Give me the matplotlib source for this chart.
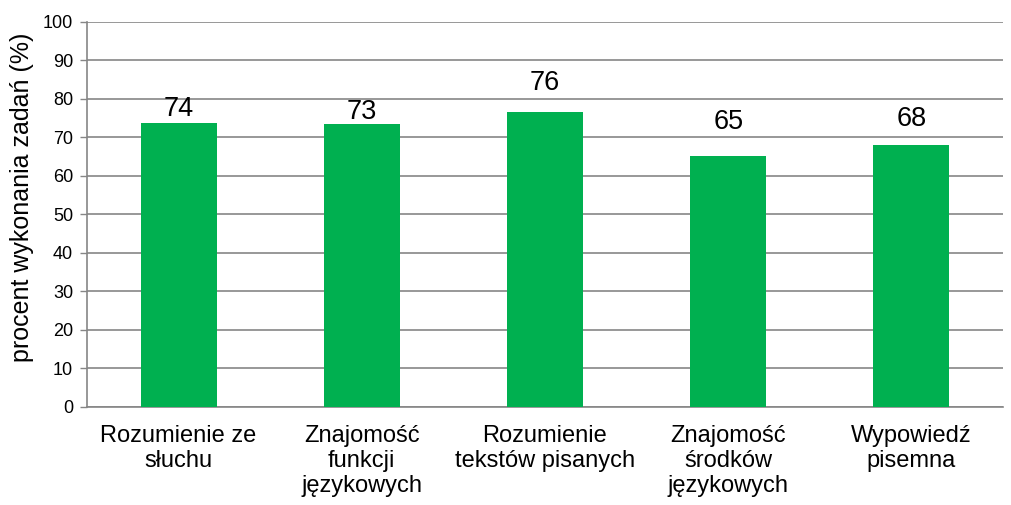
import matplotlib.pyplot as plt

plt.rcParams['font.family'] = ['Liberation Sans', 'DejaVu Sans']

categories = ['Rozumienie ze\nsłuchu', 'Znajomość\nfunkcji\njęzykowych',
              'Rozumienie\ntekstów pisanych', 'Znajomość\nśrodków\njęzykowych',
              'Wypowiedź\npisemna']
values = [73.8, 73.5, 76.6, 65.2, 68.0]
labels = ['74', '73', '76', '65', '68']
label_offsets = [9.9, 8.9, 20.7, 24.5, 18.7]  # points above bar top

fig = plt.figure(figsize=(10.11, 5.05), dpi=100)
ax = fig.add_axes([87 / 1011, 1 - 406.7 / 505, 916 / 1011, 384.7 / 505])

x = range(len(categories))
ax.bar(x, values, width=0.415, color='#00B050', zorder=3)

for i, (v, t) in enumerate(zip(values, labels)):
    ax.annotate(t, (i, v), xytext=(0, label_offsets[i]), textcoords='offset points',
                ha='center', va='center', fontsize=19.5)

ax.set_xlim(-0.5, len(categories) - 0.5)
ax.set_ylim(0, 100)
ax.set_yticks(range(0, 101, 10))
ax.tick_params(axis='y', labelsize=13, length=5, color='#868686', width=1, pad=5)
ax.set_xticks(list(x))
ax.set_xticklabels(categories, fontsize=17, linespacing=1.18)
ax.tick_params(axis='x', length=0, pad=13)
ax.yaxis.grid(True, color='#868686', linewidth=1.2)
ax.set_axisbelow(True)

for s in ['top', 'right']:
    ax.spines[s].set_visible(False)
for s in ['left', 'bottom']:
    ax.spines[s].set_color('#868686')
    ax.spines[s].set_linewidth(1.2)

ax.set_ylabel('procent wykonania zadań (%)', fontsize=18)
ax.yaxis.set_label_coords(-0.058, 0.545)

fig.savefig('out.png', dpi=100)
